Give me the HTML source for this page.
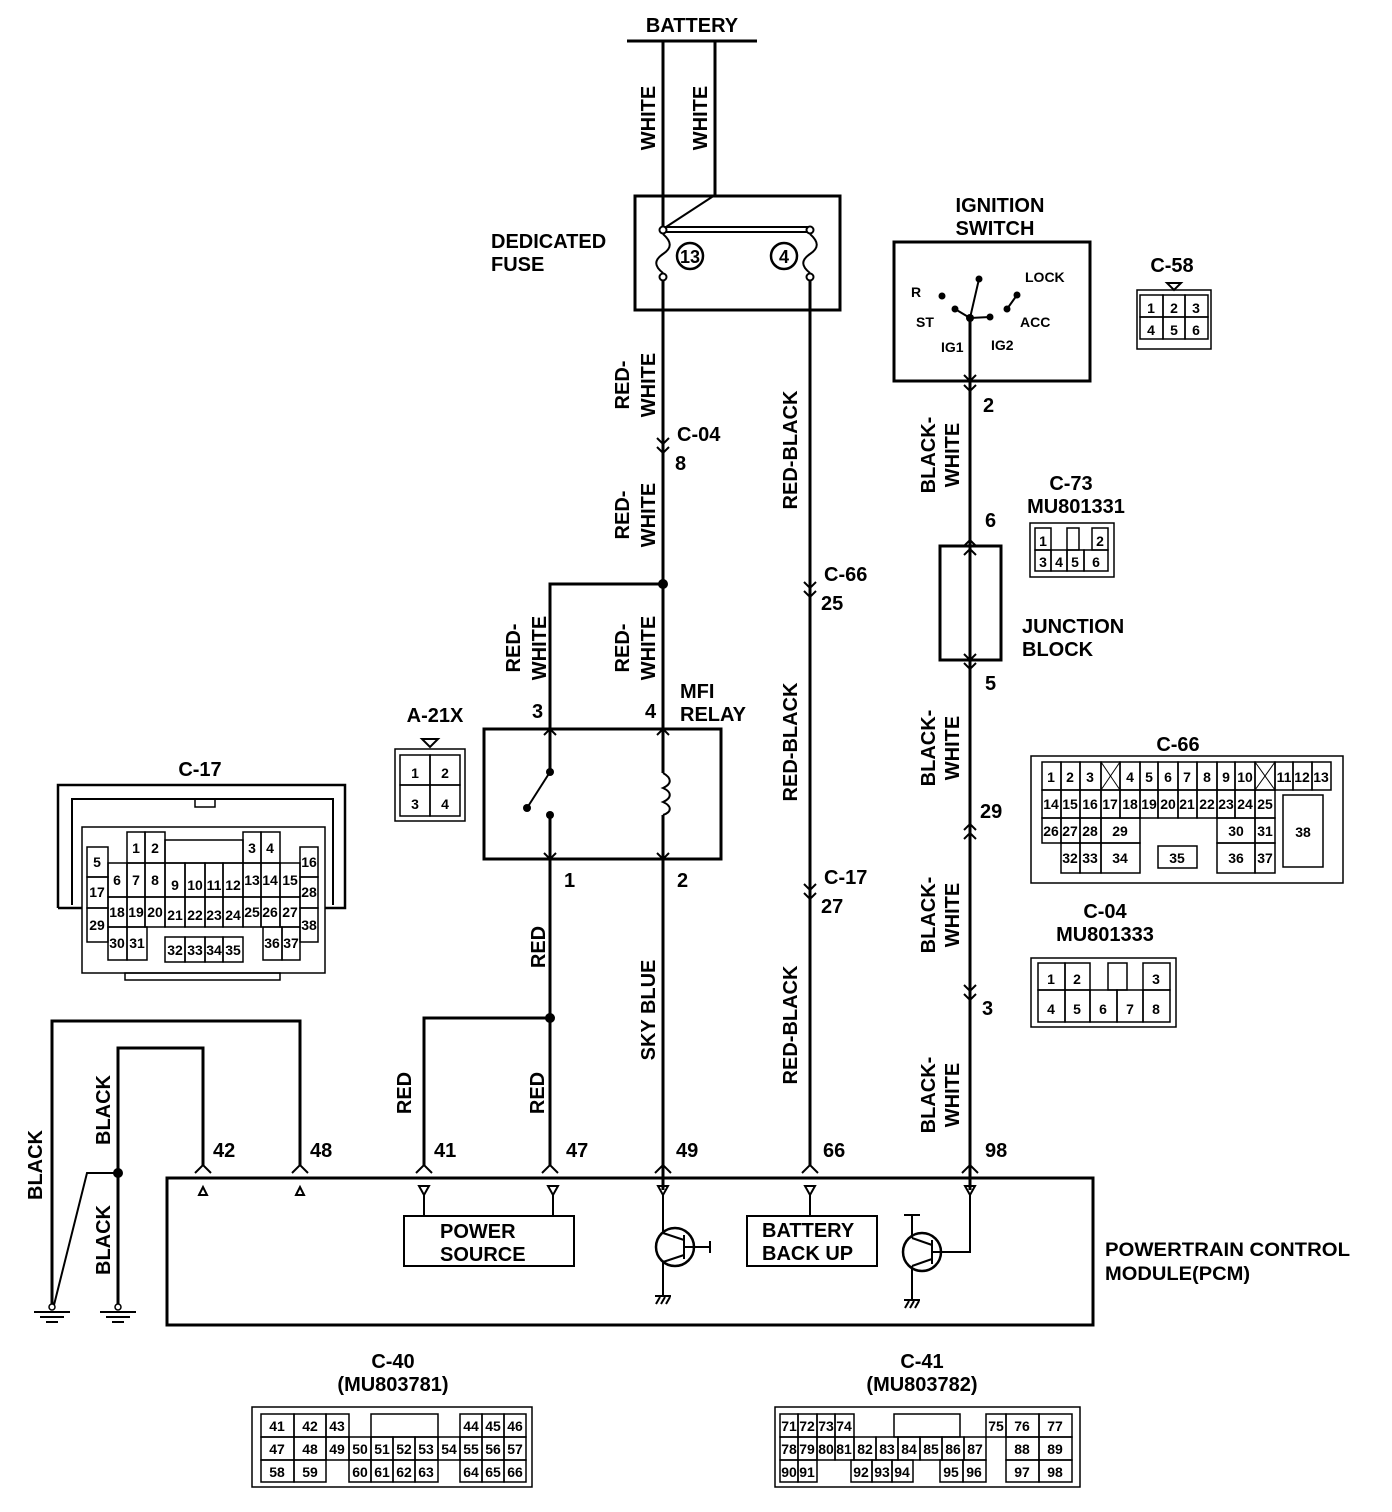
<!DOCTYPE html>
<html><head><meta charset="utf-8"><style>
html,body{margin:0;padding:0;background:#fff;}
svg{display:block;}
text{font-family:"Liberation Sans",Arial,sans-serif;font-weight:bold;fill:#000;}
.w{fill:none;stroke:#000;stroke-width:3;}
.t{fill:none;stroke:#000;stroke-width:2;}
.c rect{fill:none;stroke:#000;stroke-width:1.5;}
.c text{font-size:14px;text-anchor:middle;}
.l{font-size:20px;}
.v{font-size:20px;text-anchor:middle;}
.s{font-size:14px;}
</style></head><body>
<svg width="1392" height="1512" viewBox="0 0 1392 1512" xmlns="http://www.w3.org/2000/svg">
<!-- BATTERY -->
<text class="l" x="692" y="32" text-anchor="middle" font-size="21">BATTERY</text>
<line class="w" x1="627" y1="41" x2="757" y2="41"/>
<line class="w" x1="663" y1="41" x2="663" y2="228"/>
<line class="w" x1="715" y1="41" x2="715" y2="195"/>
<text class="v" transform="translate(648,118) rotate(-90)" y="7">WHITE</text>
<text class="v" transform="translate(700,118) rotate(-90)" y="7">WHITE</text>

<!-- Fuse -->
<rect class="w" x="635" y="196" width="205" height="114"/>
<line class="t" x1="715" y1="195" x2="666" y2="227"/>
<rect x="663" y="227" width="147" height="5" fill="#fff" stroke="#000" stroke-width="2"/>
<circle cx="663" cy="230" r="3.5" fill="#fff" stroke="#000" stroke-width="2"/>
<circle cx="810" cy="230" r="3.5" fill="#fff" stroke="#000" stroke-width="2"/>
<circle cx="663" cy="277" r="3.5" fill="#fff" stroke="#000" stroke-width="2"/>
<circle cx="810" cy="277" r="3.5" fill="#fff" stroke="#000" stroke-width="2"/>
<path class="t" d="M663 234 C672 242,672 248,663 254 C654 260,654 266,663 273"/>
<path class="t" d="M810 234 C819 242,819 248,810 254 C801 260,801 266,810 273"/>
<circle cx="690" cy="256" r="13" fill="none" stroke="#000" stroke-width="2.5"/>
<text x="690" y="263" font-size="18" text-anchor="middle">13</text>
<circle cx="784" cy="256" r="13" fill="none" stroke="#000" stroke-width="2.5"/>
<text x="784" y="263" font-size="18" text-anchor="middle">4</text>
<text class="l" x="491" y="248">DEDICATED</text>
<text class="l" x="491" y="271">FUSE</text>

<!-- Main wire x=663 -->
<line class="w" x1="663" y1="281" x2="663" y2="773"/>
<line class="w" x1="663" y1="815" x2="663" y2="1190"/>
<text class="v" transform="translate(622,385) rotate(-90)" y="7">RED-</text>
<text class="v" transform="translate(648,385) rotate(-90)" y="7">WHITE</text>
<polyline class="t" points="657,438 663,444 669,438"/>
<polyline class="t" points="657,447 663,453 669,447"/>
<text class="l" x="677" y="441">C-04</text>
<text class="l" x="675" y="470">8</text>
<text class="v" transform="translate(622,515) rotate(-90)" y="7">RED-</text>
<text class="v" transform="translate(648,515) rotate(-90)" y="7">WHITE</text>
<circle cx="663" cy="584" r="5" fill="#000"/>
<polyline class="w" points="663,584 550,584 550,772"/>
<line class="w" x1="550" y1="815" x2="550" y2="1165"/>
<text class="v" transform="translate(513,648) rotate(-90)" y="7">RED-</text>
<text class="v" transform="translate(539,648) rotate(-90)" y="7">WHITE</text>
<text class="v" transform="translate(622,648) rotate(-90)" y="7">RED-</text>
<text class="v" transform="translate(648,648) rotate(-90)" y="7">WHITE</text>

<!-- Relay -->
<rect class="w" x="484" y="729" width="237" height="130"/>
<circle cx="550" cy="772" r="4" fill="#000"/>
<circle cx="550" cy="815" r="4" fill="#000"/>
<line class="t" x1="550" y1="772" x2="527" y2="808"/>
<circle cx="527" cy="808" r="4" fill="#000"/>
<path class="t" d="M663 773 C672 778,672 784,663 788 C672 792,672 798,663 802 C672 806,672 812,663 815"/>
<polyline class="t" points="544,735 550,729 556,735"/>
<polyline class="t" points="657,735 663,729 669,735"/>
<polyline class="t" points="544,853 550,859 556,853"/>
<polyline class="t" points="657,853 663,859 669,853"/>
<text class="l" x="532" y="718">3</text>
<text class="l" x="645" y="718">4</text>
<text class="l" x="680" y="698">MFI</text>
<text class="l" x="680" y="721">RELAY</text>
<text class="l" x="564" y="887">1</text>
<text class="l" x="677" y="887">2</text>

<!-- Relay bottom wires -->
<circle cx="550" cy="1018" r="5" fill="#000"/>
<polyline class="w" points="550,1018 424,1018 424,1165"/>
<text class="v" transform="translate(538,947) rotate(-90)" y="7">RED</text>
<text class="v" transform="translate(648,1010) rotate(-90)" y="7">SKY BLUE</text>
<text class="v" transform="translate(404,1093) rotate(-90)" y="7">RED</text>
<text class="v" transform="translate(537,1093) rotate(-90)" y="7">RED</text>

<!-- x=810 -->
<line class="w" x1="810" y1="281" x2="810" y2="1165"/>
<text class="v" transform="translate(790,450) rotate(-90)" y="7">RED-BLACK</text>
<polyline class="t" points="804,582 810,588 816,582"/>
<polyline class="t" points="804,591 810,597 816,591"/>
<text class="l" x="824" y="581">C-66</text>
<text class="l" x="821" y="610">25</text>
<text class="v" transform="translate(790,742) rotate(-90)" y="7">RED-BLACK</text>
<polyline class="t" points="804,884 810,890 816,884"/>
<polyline class="t" points="804,893 810,899 816,893"/>
<text class="l" x="824" y="884">C-17</text>
<text class="l" x="821" y="913">27</text>
<text class="v" transform="translate(790,1025) rotate(-90)" y="7">RED-BLACK</text>

<!-- Ignition switch -->
<text class="l" x="1000" y="212" text-anchor="middle">IGNITION</text>
<text class="l" x="995" y="235" text-anchor="middle">SWITCH</text>
<rect class="w" x="894" y="242" width="196" height="139"/>
<line class="t" x1="970" y1="318" x2="979" y2="279"/>
<circle cx="979" cy="279" r="3.5" fill="#000"/>
<line class="t" x1="970" y1="318" x2="955" y2="309"/>
<circle cx="955" cy="309" r="3.5" fill="#000"/>
<circle cx="942" cy="296" r="3.5" fill="#000"/>
<line class="t" x1="970" y1="318" x2="990" y2="317"/>
<circle cx="990" cy="317" r="3.5" fill="#000"/>
<line class="t" x1="1007" y1="309" x2="1017" y2="295"/>
<circle cx="1007" cy="309" r="3.5" fill="#000"/>
<circle cx="1017" cy="295" r="3.5" fill="#000"/>
<circle cx="970" cy="318" r="4" fill="#000"/>
<text class="s" x="1025" y="282">LOCK</text>
<text class="s" x="911" y="297">R</text>
<text class="s" x="916" y="327">ST</text>
<text class="s" x="1020" y="327">ACC</text>
<text class="s" x="941" y="352">IG1</text>
<text class="s" x="991" y="350">IG2</text>
<line class="w" x1="970" y1="318" x2="970" y2="1190"/>
<polyline class="t" points="964,375 970,381 976,375"/>
<polyline class="t" points="964,385 970,391 976,385"/>
<text class="l" x="983" y="412">2</text>
<text class="v" transform="translate(928,455) rotate(-90)" y="7">BLACK-</text>
<text class="v" transform="translate(952,455) rotate(-90)" y="7">WHITE</text>
<text class="l" x="985" y="527">6</text>
<rect class="w" x="940" y="546" width="61" height="114" fill="#fff"/>
<line class="w" x1="970" y1="540" x2="970" y2="546"/>
<polyline class="t" points="964,546 970,540 976,546"/>
<polyline class="t" points="964,555 970,549 976,555"/>
<polyline class="t" points="964,654 970,660 976,654"/>
<polyline class="t" points="964,663 970,669 976,663"/>
<text class="l" x="1022" y="633">JUNCTION</text>
<text class="l" x="1022" y="656">BLOCK</text>
<text class="l" x="985" y="690">5</text>
<text class="v" transform="translate(928,748) rotate(-90)" y="7">BLACK-</text>
<text class="v" transform="translate(952,748) rotate(-90)" y="7">WHITE</text>
<polyline class="t" points="964,830 970,824 976,830"/>
<polyline class="t" points="964,839 970,833 976,839"/>
<text class="l" x="980" y="818">29</text>
<text class="v" transform="translate(928,915) rotate(-90)" y="7">BLACK-</text>
<text class="v" transform="translate(952,915) rotate(-90)" y="7">WHITE</text>
<polyline class="t" points="964,985 970,991 976,985"/>
<polyline class="t" points="964,994 970,1000 976,994"/>
<text class="l" x="982" y="1015">3</text>
<text class="v" transform="translate(928,1095) rotate(-90)" y="7">BLACK-</text>
<text class="v" transform="translate(952,1095) rotate(-90)" y="7">WHITE</text>

<!-- Grounds -->
<polyline class="w" points="300,1165 300,1021 52,1021 52,1306"/>
<polyline class="w" points="203,1165 203,1048 118,1048 118,1306"/>
<polyline class="t" points="118,1173 87,1173 54,1305"/>
<circle cx="118" cy="1173" r="5" fill="#000"/>
<circle cx="52" cy="1307" r="3" fill="#fff" stroke="#000" stroke-width="1.5"/>
<circle cx="118" cy="1307" r="3" fill="#fff" stroke="#000" stroke-width="1.5"/>
<line class="t" x1="34" y1="1312" x2="70" y2="1312"/><line class="t" x1="40" y1="1317" x2="64" y2="1317"/><line class="t" x1="46" y1="1322" x2="58" y2="1322"/>
<line class="t" x1="100" y1="1312" x2="136" y2="1312"/><line class="t" x1="106" y1="1317" x2="130" y2="1317"/><line class="t" x1="112" y1="1322" x2="124" y2="1322"/>
<text class="v" transform="translate(35,1165) rotate(-90)" y="7">BLACK</text>
<text class="v" transform="translate(103,1110) rotate(-90)" y="7">BLACK</text>
<text class="v" transform="translate(103,1240) rotate(-90)" y="7">BLACK</text>

<!-- PCM -->
<rect class="w" x="167" y="1178" width="926" height="147"/>
<g>
<polyline class="t" points="195,1173 203,1165 211,1173"/><polygon class="t" points="199,1195 203,1187 207,1195"/>
<polyline class="t" points="292,1173 300,1165 308,1173"/><polygon class="t" points="296,1195 300,1187 304,1195"/>
<polyline class="t" points="416,1173 424,1165 432,1173"/><polygon class="t" points="419,1186 429,1186 424,1195"/>
<polyline class="t" points="542,1173 550,1165 558,1173"/><polygon class="t" points="548,1186 558,1186 553,1195"/>
<polyline class="t" points="655,1173 663,1165 671,1173"/><polygon class="t" points="658,1186 668,1186 663,1195"/>
<polyline class="t" points="802,1173 810,1165 818,1173"/><polygon class="t" points="805,1186 815,1186 810,1195"/>
<polyline class="t" points="962,1173 970,1165 978,1173"/><polygon class="t" points="965,1186 975,1186 970,1195"/>
</g>
<text class="l" x="213" y="1157">42</text>
<text class="l" x="310" y="1157">48</text>
<text class="l" x="434" y="1157">41</text>
<text class="l" x="566" y="1157">47</text>
<text class="l" x="676" y="1157">49</text>
<text class="l" x="823" y="1157">66</text>
<text class="l" x="985" y="1157">98</text>
<line class="t" x1="424" y1="1195" x2="424" y2="1216"/>
<line class="t" x1="553" y1="1195" x2="553" y2="1216"/>
<line class="t" x1="810" y1="1195" x2="810" y2="1216"/>
<rect class="t" x="404" y="1216" width="170" height="50"/>
<text class="l" x="440" y="1238">POWER</text>
<text class="l" x="440" y="1261">SOURCE</text>
<rect class="t" x="747" y="1216" width="130" height="50"/>
<text class="l" x="762" y="1237">BATTERY</text>
<text class="l" x="762" y="1260">BACK UP</text>
<!-- transistor 1 -->
<line class="t" x1="663" y1="1195" x2="663" y2="1233"/>
<circle cx="675" cy="1247" r="19" fill="none" stroke="#000" stroke-width="2.5"/>
<line class="t" x1="663" y1="1233" x2="684" y2="1240"/>
<line class="t" x1="684" y1="1255" x2="663" y2="1262"/>
<line class="t" x1="684" y1="1235" x2="684" y2="1259"/>
<line class="t" x1="684" y1="1247" x2="710" y2="1247"/>
<line class="t" x1="710" y1="1241" x2="710" y2="1253"/>
<line class="t" x1="663" y1="1262" x2="663" y2="1296"/>
<line class="t" x1="655" y1="1296" x2="671" y2="1296"/>
<line class="t" x1="656" y1="1304" x2="660" y2="1297"/><line class="t" x1="661" y1="1304" x2="665" y2="1297"/><line class="t" x1="666" y1="1304" x2="670" y2="1297"/>
<!-- transistor 2 -->
<line class="t" x1="904" y1="1215" x2="920" y2="1215"/>
<line class="t" x1="912" y1="1215" x2="912" y2="1238"/>
<circle cx="922" cy="1252" r="19" fill="none" stroke="#000" stroke-width="2.5"/>
<line class="t" x1="912" y1="1238" x2="932" y2="1245"/>
<line class="t" x1="932" y1="1259" x2="912" y2="1266"/>
<line class="t" x1="932" y1="1240" x2="932" y2="1264"/>
<polyline class="t" points="932,1252 970,1252 970,1195"/>
<line class="t" x1="912" y1="1266" x2="912" y2="1300"/>
<line class="t" x1="904" y1="1300" x2="920" y2="1300"/>
<line class="t" x1="905" y1="1308" x2="909" y2="1301"/><line class="t" x1="910" y1="1308" x2="914" y2="1301"/><line class="t" x1="915" y1="1308" x2="919" y2="1301"/>
<text x="1105" y="1256" font-size="19" font-weight="normal" textLength="245" lengthAdjust="spacingAndGlyphs">POWERTRAIN CONTROL</text>
<text x="1105" y="1280" font-size="19" font-weight="normal" textLength="145" lengthAdjust="spacingAndGlyphs">MODULE(PCM)</text>

<!-- C-58 -->
<text class="l" x="1172" y="272" text-anchor="middle">C-58</text>
<polygon class="t" points="1167,283 1181,283 1174,290"/>
<g class="c">
<rect x="1137" y="290" width="74" height="59" stroke-width="2.5"/>
<rect x="1140" y="295" width="23" height="22"/><text x="1151" y="313" font-size="19">1</text>
<rect x="1163" y="295" width="22" height="22"/><text x="1174" y="313" font-size="19">2</text>
<rect x="1185" y="295" width="23" height="22"/><text x="1196" y="313" font-size="19">3</text>
<rect x="1140" y="317" width="23" height="22"/><text x="1151" y="335" font-size="19">4</text>
<rect x="1163" y="317" width="22" height="22"/><text x="1174" y="335" font-size="19">5</text>
<rect x="1185" y="317" width="23" height="22"/><text x="1196" y="335" font-size="19">6</text>
</g>

<!-- C-73 -->
<text class="l" x="1071" y="490" text-anchor="middle">C-73</text>
<text class="l" x="1076" y="513" text-anchor="middle">MU801331</text>
<g class="c">
<rect x="1030" y="523" width="84" height="54" stroke-width="2.5"/>
<rect x="1035" y="528" width="16" height="22"/><text x="1043" y="546" font-size="17">1</text>
<rect x="1067" y="528" width="12" height="22"/>
<rect x="1092" y="528" width="16" height="22"/><text x="1100" y="546" font-size="17">2</text>
<rect x="1035" y="550" width="16" height="21"/><text x="1043" y="567" font-size="17">3</text>
<rect x="1051" y="550" width="16" height="21"/><text x="1059" y="567" font-size="17">4</text>
<rect x="1067" y="550" width="17" height="21"/><text x="1075" y="567" font-size="17">5</text>
<rect x="1084" y="550" width="24" height="21"/><text x="1096" y="567" font-size="17">6</text>
</g>

<!-- A-21X -->
<text class="l" x="435" y="722" text-anchor="middle">A-21X</text>
<polygon class="t" points="422,739 438,739 430,747"/>
<g class="c">
<rect x="395" y="749" width="70" height="72" stroke-width="2.5"/>
<rect x="400" y="755" width="30" height="30"/><text x="415" y="778" font-size="20">1</text>
<rect x="430" y="755" width="30" height="30"/><text x="445" y="778" font-size="20">2</text>
<rect x="400" y="785" width="30" height="31"/><text x="415" y="809" font-size="20">3</text>
<rect x="430" y="785" width="30" height="31"/><text x="445" y="809" font-size="20">4</text>
</g>

<!-- C-66 -->
<text class="l" x="1178" y="751" text-anchor="middle">C-66</text>
<g class="c">
<rect x="1031" y="756" width="312" height="127" stroke-width="2.5"/>
<rect x="1042" y="762" width="19" height="28"/><text x="1051" y="782">1</text>
<rect x="1061" y="762" width="19" height="28"/><text x="1070" y="782">2</text>
<rect x="1080" y="762" width="21" height="28"/><text x="1090" y="782">3</text>
<rect x="1101" y="762" width="19" height="28"/><line x1="1101" y1="762" x2="1120" y2="790" stroke="#000"/><line x1="1120" y1="762" x2="1101" y2="790" stroke="#000"/>
<rect x="1120" y="762" width="20" height="28"/><text x="1130" y="782">4</text>
<rect x="1140" y="762" width="18" height="28"/><text x="1149" y="782">5</text>
<rect x="1158" y="762" width="20" height="28"/><text x="1168" y="782">6</text>
<rect x="1178" y="762" width="19" height="28"/><text x="1187" y="782">7</text>
<rect x="1197" y="762" width="20" height="28"/><text x="1207" y="782">8</text>
<rect x="1217" y="762" width="18" height="28"/><text x="1226" y="782">9</text>
<rect x="1235" y="762" width="20" height="28"/><text x="1245" y="782">10</text>
<rect x="1255" y="762" width="20" height="28"/><line x1="1255" y1="762" x2="1275" y2="790" stroke="#000"/><line x1="1275" y1="762" x2="1255" y2="790" stroke="#000"/>
<rect x="1275" y="762" width="18" height="28"/><text x="1284" y="782">11</text>
<rect x="1293" y="762" width="19" height="28"/><text x="1302" y="782">12</text>
<rect x="1312" y="762" width="19" height="28"/><text x="1321" y="782">13</text>
<rect x="1042" y="790" width="19" height="28"/><text x="1051" y="809">14</text>
<rect x="1061" y="790" width="19" height="28"/><text x="1070" y="809">15</text>
<rect x="1080" y="790" width="21" height="28"/><text x="1090" y="809">16</text>
<rect x="1101" y="790" width="19" height="28"/><text x="1110" y="809">17</text>
<rect x="1120" y="790" width="20" height="28"/><text x="1130" y="809">18</text>
<rect x="1140" y="790" width="18" height="28"/><text x="1149" y="809">19</text>
<rect x="1158" y="790" width="20" height="28"/><text x="1168" y="809">20</text>
<rect x="1178" y="790" width="19" height="28"/><text x="1187" y="809">21</text>
<rect x="1197" y="790" width="20" height="28"/><text x="1207" y="809">22</text>
<rect x="1217" y="790" width="18" height="28"/><text x="1226" y="809">23</text>
<rect x="1235" y="790" width="20" height="28"/><text x="1245" y="809">24</text>
<rect x="1255" y="790" width="20" height="28"/><text x="1265" y="809">25</text>
<rect x="1283" y="795" width="40" height="72"/><text x="1303" y="837">38</text>
<rect x="1042" y="818" width="19" height="25"/><text x="1051" y="836">26</text>
<rect x="1061" y="818" width="19" height="25"/><text x="1070" y="836">27</text>
<rect x="1080" y="818" width="21" height="25"/><text x="1090" y="836">28</text>
<rect x="1101" y="818" width="39" height="25"/><text x="1120" y="836">29</text>
<rect x="1217" y="818" width="38" height="25"/><text x="1236" y="836">30</text>
<rect x="1255" y="818" width="20" height="25"/><text x="1265" y="836">31</text>
<rect x="1061" y="843" width="19" height="30"/><text x="1070" y="863">32</text>
<rect x="1080" y="843" width="21" height="30"/><text x="1090" y="863">33</text>
<rect x="1101" y="843" width="39" height="30"/><text x="1120" y="863">34</text>
<rect x="1158" y="846" width="39" height="22"/><text x="1177" y="863">35</text>
<rect x="1217" y="843" width="38" height="30"/><text x="1236" y="863">36</text>
<rect x="1255" y="843" width="20" height="30"/><text x="1265" y="863">37</text>
</g>

<!-- C-04 -->
<text class="l" x="1105" y="918" text-anchor="middle">C-04</text>
<text class="l" x="1105" y="941" text-anchor="middle">MU801333</text>
<g class="c">
<rect x="1031" y="958" width="145" height="69" stroke-width="2.5"/>
<rect x="1038" y="963" width="27" height="27"/><text x="1051" y="984" font-size="18">1</text>
<rect x="1065" y="963" width="25" height="27"/><text x="1077" y="984" font-size="18">2</text>
<rect x="1108" y="963" width="19" height="27"/>
<rect x="1143" y="963" width="27" height="27"/><text x="1156" y="984" font-size="18">3</text>
<rect x="1038" y="990" width="27" height="32"/><text x="1051" y="1014" font-size="18">4</text>
<rect x="1065" y="990" width="25" height="32"/><text x="1077" y="1014" font-size="18">5</text>
<rect x="1090" y="990" width="27" height="32"/><text x="1103" y="1014" font-size="18">6</text>
<rect x="1117" y="990" width="26" height="32"/><text x="1130" y="1014" font-size="18">7</text>
<rect x="1143" y="990" width="27" height="32"/><text x="1156" y="1014" font-size="18">8</text>
</g>

<!-- C-17 -->
<text class="l" x="200" y="776" text-anchor="middle">C-17</text>
<g class="c">
<path d="M58 908 V785 H345 V908 H325 M58 908 H82" fill="none" stroke="#000" stroke-width="2.5"/>
<path d="M72 905 V799 H333 V905" fill="none" stroke="#000" stroke-width="2"/>
<rect x="195" y="799" width="20" height="8"/>
<rect x="82" y="827" width="243" height="146" stroke-width="2.5"/>
<rect x="125" y="973" width="155" height="7" stroke-width="2"/>
<rect x="127" y="832" width="18" height="31"/><text x="136" y="853">1</text>
<rect x="145" y="832" width="20" height="31"/><text x="155" y="853">2</text>
<rect x="165" y="840" width="78" height="23"/>
<rect x="243" y="832" width="18" height="31"/><text x="252" y="853">3</text>
<rect x="261" y="832" width="19" height="31"/><text x="270" y="853">4</text>
<rect x="87" y="847" width="21" height="30"/><text x="97" y="867">5</text>
<rect x="87" y="877" width="21" height="31"/><text x="97" y="897">17</text>
<rect x="87" y="908" width="21" height="34"/><text x="97" y="930">29</text>
<rect x="300" y="847" width="18" height="30"/><text x="309" y="867">16</text>
<rect x="300" y="877" width="18" height="31"/><text x="309" y="897">28</text>
<rect x="300" y="908" width="18" height="34"/><text x="309" y="930">38</text>
<rect x="108" y="863" width="19" height="34"/><text x="117" y="885">6</text>
<rect x="127" y="863" width="18" height="34"/><text x="136" y="885">7</text>
<rect x="145" y="863" width="20" height="34"/><text x="155" y="885">8</text>
<rect x="165" y="863" width="20" height="34"/><text x="175" y="890">9</text>
<rect x="185" y="863" width="20" height="34"/><text x="195" y="890">10</text>
<rect x="205" y="863" width="18" height="34"/><text x="214" y="890">11</text>
<rect x="223" y="863" width="20" height="34"/><text x="233" y="890">12</text>
<rect x="243" y="863" width="18" height="34"/><text x="252" y="885">13</text>
<rect x="261" y="863" width="19" height="34"/><text x="270" y="885">14</text>
<rect x="280" y="863" width="20" height="34"/><text x="290" y="885">15</text>
<rect x="108" y="897" width="19" height="30"/><text x="117" y="917">18</text>
<rect x="127" y="897" width="18" height="30"/><text x="136" y="917">19</text>
<rect x="145" y="897" width="20" height="30"/><text x="155" y="917">20</text>
<rect x="165" y="897" width="20" height="30"/><text x="175" y="920">21</text>
<rect x="185" y="897" width="20" height="30"/><text x="195" y="920">22</text>
<rect x="205" y="897" width="18" height="30"/><text x="214" y="920">23</text>
<rect x="223" y="897" width="20" height="30"/><text x="233" y="920">24</text>
<rect x="243" y="897" width="18" height="30"/><text x="252" y="917">25</text>
<rect x="261" y="897" width="19" height="30"/><text x="270" y="917">26</text>
<rect x="280" y="897" width="20" height="30"/><text x="290" y="917">27</text>
<rect x="108" y="927" width="19" height="33"/><text x="117" y="948">30</text>
<rect x="127" y="927" width="20" height="33"/><text x="137" y="948">31</text>
<rect x="165" y="937" width="20" height="25"/><text x="175" y="955">32</text>
<rect x="185" y="937" width="20" height="25"/><text x="195" y="955">33</text>
<rect x="205" y="937" width="18" height="25"/><text x="214" y="955">34</text>
<rect x="223" y="937" width="20" height="25"/><text x="233" y="955">35</text>
<rect x="263" y="927" width="19" height="33"/><text x="272" y="948">36</text>
<rect x="282" y="927" width="18" height="33"/><text x="291" y="948">37</text>
</g>

<!-- C-40 -->
<text class="l" x="393" y="1368" text-anchor="middle">C-40</text>
<text class="l" x="393" y="1391" text-anchor="middle">(MU803781)</text>
<g class="c">
<rect x="252" y="1407" width="280" height="80" stroke-width="2.5"/>
<rect x="261" y="1414" width="33" height="23"/><text x="277" y="1431">41</text>
<rect x="294" y="1414" width="32" height="23"/><text x="310" y="1431">42</text>
<rect x="326" y="1414" width="23" height="23"/><text x="337" y="1431">43</text>
<rect x="371" y="1414" width="67" height="23"/>
<rect x="460" y="1414" width="22" height="23"/><text x="471" y="1431">44</text>
<rect x="482" y="1414" width="22" height="23"/><text x="493" y="1431">45</text>
<rect x="504" y="1414" width="22" height="23"/><text x="515" y="1431">46</text>
<rect x="261" y="1437" width="33" height="23"/><text x="277" y="1454">47</text>
<rect x="294" y="1437" width="32" height="23"/><text x="310" y="1454">48</text>
<rect x="326" y="1437" width="23" height="23"/><text x="337" y="1454">49</text>
<rect x="349" y="1437" width="22" height="23"/><text x="360" y="1454">50</text>
<rect x="371" y="1437" width="22" height="23"/><text x="382" y="1454">51</text>
<rect x="393" y="1437" width="22" height="23"/><text x="404" y="1454">52</text>
<rect x="415" y="1437" width="23" height="23"/><text x="426" y="1454">53</text>
<rect x="438" y="1437" width="22" height="23"/><text x="449" y="1454">54</text>
<rect x="460" y="1437" width="22" height="23"/><text x="471" y="1454">55</text>
<rect x="482" y="1437" width="22" height="23"/><text x="493" y="1454">56</text>
<rect x="504" y="1437" width="22" height="23"/><text x="515" y="1454">57</text>
<rect x="261" y="1460" width="33" height="22"/><text x="277" y="1477">58</text>
<rect x="294" y="1460" width="32" height="22"/><text x="310" y="1477">59</text>
<rect x="349" y="1460" width="22" height="22"/><text x="360" y="1477">60</text>
<rect x="371" y="1460" width="22" height="22"/><text x="382" y="1477">61</text>
<rect x="393" y="1460" width="22" height="22"/><text x="404" y="1477">62</text>
<rect x="415" y="1460" width="23" height="22"/><text x="426" y="1477">63</text>
<rect x="460" y="1460" width="22" height="22"/><text x="471" y="1477">64</text>
<rect x="482" y="1460" width="22" height="22"/><text x="493" y="1477">65</text>
<rect x="504" y="1460" width="22" height="22"/><text x="515" y="1477">66</text>
</g>

<!-- C-41 -->
<text class="l" x="922" y="1368" text-anchor="middle">C-41</text>
<text class="l" x="922" y="1391" text-anchor="middle">(MU803782)</text>
<g class="c">
<rect x="775" y="1407" width="305" height="80" stroke-width="2.5"/>
<rect x="780" y="1414" width="18" height="23"/><text x="789" y="1431">71</text>
<rect x="798" y="1414" width="19" height="23"/><text x="807" y="1431">72</text>
<rect x="817" y="1414" width="18" height="23"/><text x="826" y="1431">73</text>
<rect x="835" y="1414" width="19" height="23"/><text x="844" y="1431">74</text>
<rect x="894" y="1414" width="66" height="23"/>
<rect x="986" y="1414" width="20" height="23"/><text x="996" y="1431">75</text>
<rect x="1006" y="1414" width="33" height="23"/><text x="1022" y="1431">76</text>
<rect x="1039" y="1414" width="33" height="23"/><text x="1055" y="1431">77</text>
<rect x="780" y="1437" width="18" height="23"/><text x="789" y="1454">78</text>
<rect x="798" y="1437" width="19" height="23"/><text x="807" y="1454">79</text>
<rect x="817" y="1437" width="18" height="23"/><text x="826" y="1454">80</text>
<rect x="835" y="1437" width="19" height="23"/><text x="844" y="1454">81</text>
<rect x="854" y="1437" width="22" height="23"/><text x="865" y="1454">82</text>
<rect x="876" y="1437" width="22" height="23"/><text x="887" y="1454">83</text>
<rect x="898" y="1437" width="22" height="23"/><text x="909" y="1454">84</text>
<rect x="920" y="1437" width="22" height="23"/><text x="931" y="1454">85</text>
<rect x="942" y="1437" width="22" height="23"/><text x="953" y="1454">86</text>
<rect x="964" y="1437" width="22" height="23"/><text x="975" y="1454">87</text>
<rect x="1006" y="1437" width="33" height="23"/><text x="1022" y="1454">88</text>
<rect x="1039" y="1437" width="33" height="23"/><text x="1055" y="1454">89</text>
<rect x="780" y="1460" width="18" height="22"/><text x="789" y="1477">90</text>
<rect x="798" y="1460" width="19" height="22"/><text x="807" y="1477">91</text>
<rect x="851" y="1460" width="21" height="22"/><text x="861" y="1477">92</text>
<rect x="872" y="1460" width="20" height="22"/><text x="882" y="1477">93</text>
<rect x="892" y="1460" width="21" height="22"/><text x="902" y="1477">94</text>
<rect x="940" y="1460" width="23" height="22"/><text x="951" y="1477">95</text>
<rect x="963" y="1460" width="23" height="22"/><text x="974" y="1477">96</text>
<rect x="1006" y="1460" width="33" height="22"/><text x="1022" y="1477">97</text>
<rect x="1039" y="1460" width="33" height="22"/><text x="1055" y="1477">98</text>
</g>
</svg>
</body></html>
